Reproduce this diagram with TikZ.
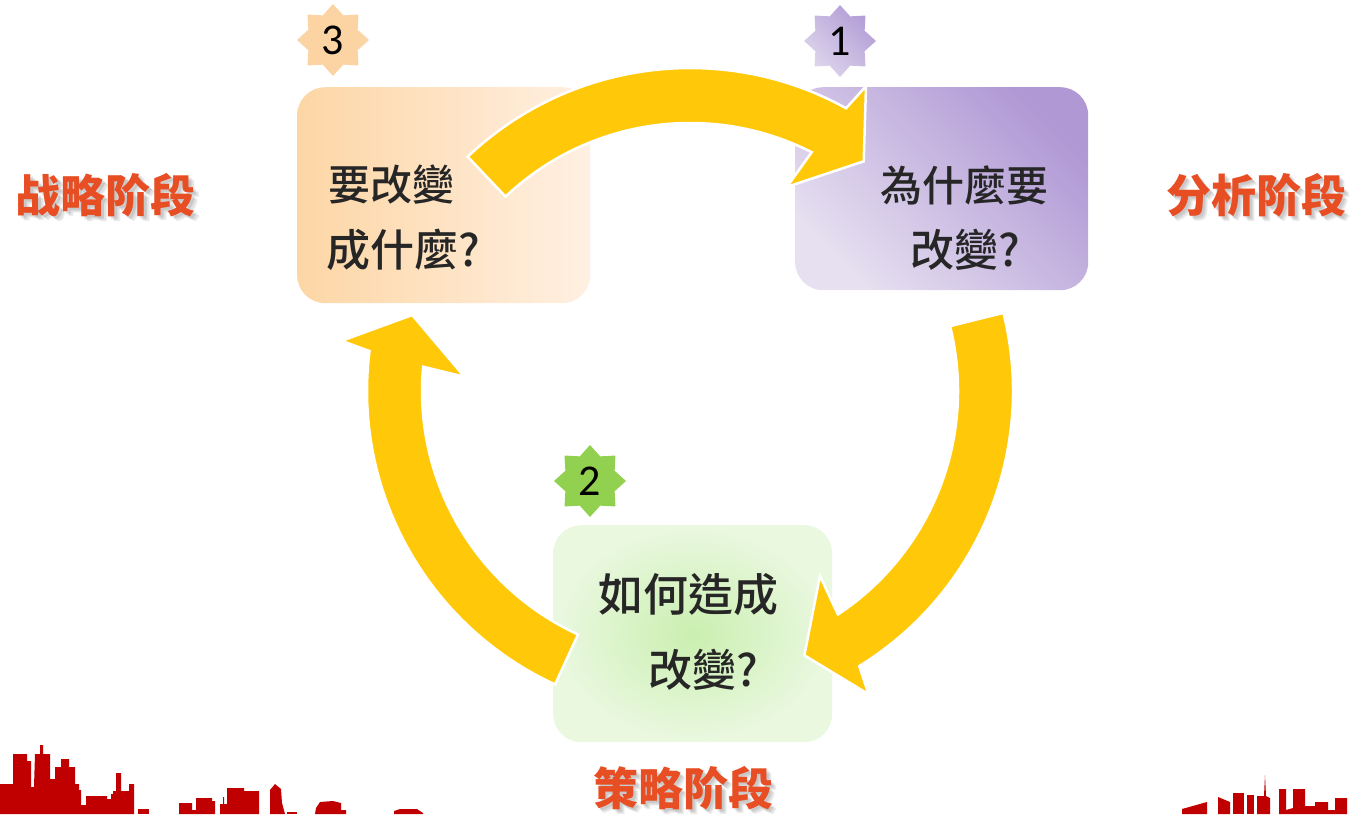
\documentclass[tikz,border=0pt]{standalone}
\usepackage{fontspec}
\setmainfont{Carlito}
\newfontfamily\tcfont{Noto Sans CJK TC Medium}
\newfontfamily\scfont{Noto Sans CJK SC}
\usepackage{tikz}
\usetikzlibrary{shapes.geometric}
\definecolor{ARROW}{HTML}{FFC90A}
\definecolor{STAGE}{HTML}{E84E24}
\definecolor{CITY}{HTML}{C00000}
\definecolor{INK}{HTML}{262626}
\tikzset{
  BOX/.style={% Style for the rounded step boxes
      rectangle, rounded corners=28pt,
      anchor=north west,
      inner sep=0pt,
  },
  BADGE/.style={% Eight point star holding the step number
      star, star points=8, star point ratio=1.35,
      minimum size=72pt,
      inner sep=0pt,
      font=\fontsize{44}{44}\selectfont,
      text=black,
  },
  BOXTEXT/.style={% Question written in a box
      anchor=west, inner sep=0pt,
      text=INK,
      font=\tcfont\fontsize{42}{42}\selectfont,
  },
  STAGE/.style={% Stage names round the cycle
      inner sep=0pt,
      text=STAGE,
      font=\scfont\bfseries\fontsize{45}{45}\selectfont,
  },
  ARROWBODY/.style={% Thick curved arrow with a white rim
      fill=ARROW, draw=white, line width=2.5pt,
  }
}
% curved arrow round (ctr), #1 = angle of its tail, running clockwise
\def\cyclearrow#1{%
  \pgfmathsetmacro\innerend{#1-70.5}%
  \filldraw[ARROWBODY]
    ([shift={(#1:268)}]ctr) -- ([shift={(#1:323)}]ctr)
    arc[start angle=#1, delta angle=-72.4, radius=323]
    -- ([shift={(#1-73.5:352)}]ctr)
    -- ([shift={(#1-80.6:288)}]ctr)
    -- ([shift={(#1-68.9:226)}]ctr)
    -- ([shift={(\innerend:268)}]ctr)
    arc[start angle=\innerend, delta angle=70.5, radius=268]
    -- cycle;
}
% stage name with a soft shadow under it
\def\stage(#1)#2#3{%
  \foreach \d in {2,3,4,5} {%
    \node[STAGE, text=black, opacity=.06, xshift=\d pt, yshift=-\d pt] (#2-sh\d) at (#1) {#3};
  }
  \node[STAGE] (#2) at (#1) {#3};
}

\begin{document}
\begin{tikzpicture}[x=1pt, y=1pt]
  \useasboundingbox (0,0) rectangle (1352,-814);

  % number badges
  \node[BADGE, fill={rgb,255:red,252;green,212;blue,163}] (n3) at (333,-40) {3};
  \node[BADGE, left color={rgb,255:red,222;green,214;blue,236},
        right color={rgb,255:red,178;green,156;blue,214}, shading angle=135] (n1) at (840,-41) {1};
  \node[BADGE, fill={rgb,255:red,146;green,208;blue,80}] (n2) at (590,-481) {2};

  % step boxes
  \node[BOX, minimum width=293pt, minimum height=216pt,
        left color={rgb,255:red,253;green,214;blue,165},
        right color={rgb,255:red,255;green,240;blue,226}] (what) at (297,-87) {};
  \node[BOX, minimum width=293pt, minimum height=203pt,
        left color={rgb,255:red,230;green,224;blue,240},
        right color={rgb,255:red,176;green,152;blue,213}, shading angle=135] (why) at (795,-87) {};
  \node[BOX, minimum width=279pt, minimum height=217pt,
        inner color={rgb,255:red,202;green,239;blue,176},
        outer color={rgb,255:red,234;green,248;blue,224}] (how) at (553,-525) {};

  % the three arrows of the cycle
  \coordinate (ctr) at (690,-391);
  \cyclearrow{133.5}
  \cyclearrow{14}
  \cyclearrow{245.3}

  % questions
  \node[BOXTEXT] (what1) at (328,-185) {要改變};
  \node[BOXTEXT, font=\tcfont\fontsize{44}{44}\selectfont] (what2) at (326,-250) {成什麼?};
  \node[BOXTEXT] (why1) at (880,-185) {為什麼要};
  \node[BOXTEXT, font=\tcfont\fontsize{44}{44}\selectfont] (why2) at (910,-250) {改變?};
  \node[BOXTEXT, font=\tcfont\fontsize{45}{45}\selectfont] (how1) at (598,-595) {如何造成};
  \node[BOXTEXT, font=\tcfont\fontsize{44}{44}\selectfont] (how2) at (648,-670) {改變?};

  % stage names
  \stage(106,-195){s3}{战略阶段}
  \stage(1256,-195){s1}{分析阶段}
  \stage(683,-788){s2}{策略阶段}

  % skyline, lower left
  \fill[CITY] (0,-814) -- (0,-784) -- (13,-784) -- (13,-754) -- (27,-754) -- (27,-761)
    -- (31,-761) -- (31,-787) -- (34,-787) -- (35,-754) -- (40,-754) -- (40,-745)
    -- (43,-745) -- (43,-754) -- (50,-754) -- (50,-779) -- (55,-779) -- (55,-767)
    -- (61,-767) -- (61,-759) -- (69,-759) -- (69,-767) -- (75,-767) -- (75,-784)
    -- (79,-784) -- (79,-790) -- (81,-790) -- (81,-805) -- (86,-805) -- (86,-796)
    -- (107,-796) -- (107,-799) -- (111,-799) -- (111,-794) -- (113,-794) -- (113,-791)
    -- (116,-791) -- (116,-773) -- (121,-773) -- (121,-791) -- (129,-791) -- (129,-784)
    -- (134,-784) -- (134,-814) -- cycle;
  \fill[CITY] (138,-814) rectangle (149,-809);
  \fill[CITY] (179,-814) -- (179,-803) -- (192,-803) -- (192,-810) -- (196,-810) -- (196,-798)
    -- (212,-798) -- (212,-801) -- (215,-801) -- (215,-814) -- cycle;
  \fill[CITY] (220,-814) -- (220,-804) -- (223,-804) -- (223,-797) -- (224,-797) -- (224,-804)
    -- (227,-804) -- (227,-788) -- (244,-788) -- (244,-791) -- (259,-791) -- (259,-814) -- cycle;
  \fill[CITY] (270,-814) -- (270,-790) -- (275,-784) -- (281,-789) -- (282,-803) -- (285,-814) -- cycle;
  \fill[CITY] (287,-814) rectangle (297,-812);
  \fill[CITY] (315,-814) -- (316,-808) -- (320,-802) -- (333,-801) -- (341,-803) -- (341,-810)
    -- (346,-810) -- (346,-814) -- cycle;
  \fill[CITY] (394,-814) -- (394,-811) -- (400,-809) -- (417,-809) -- (423,-813) -- (423,-814) -- cycle;

  % skyline, lower right
  \fill[CITY] (1182,-814) -- (1182,-809) -- (1207,-802) -- (1207,-814) -- cycle;
  \fill[CITY] (1218,-814) -- (1218,-797) -- (1230,-802) -- (1230,-814) -- cycle;
  \fill[CITY] (1233,-814) rectangle (1244,-793);
  \fill[CITY] (1247,-814) rectangle (1254,-795);
  \fill[CITY] (1257,-814) -- (1257,-796) -- (1264,-796) -- (1265,-775) -- (1266,-796)
    -- (1270,-798) -- (1270,-814) -- cycle;
  \fill[CITY] (1279,-814) -- (1279,-789) -- (1286,-789) -- (1286,-810) -- (1293,-808)
    -- (1293,-789) -- (1305,-789) -- (1305,-806) -- (1315,-806) -- (1315,-802) -- (1328,-802)
    -- (1328,-810) -- (1335,-810) -- (1335,-798) -- (1347,-798) -- (1347,-814) -- cycle;
\end{tikzpicture}
\end{document}
